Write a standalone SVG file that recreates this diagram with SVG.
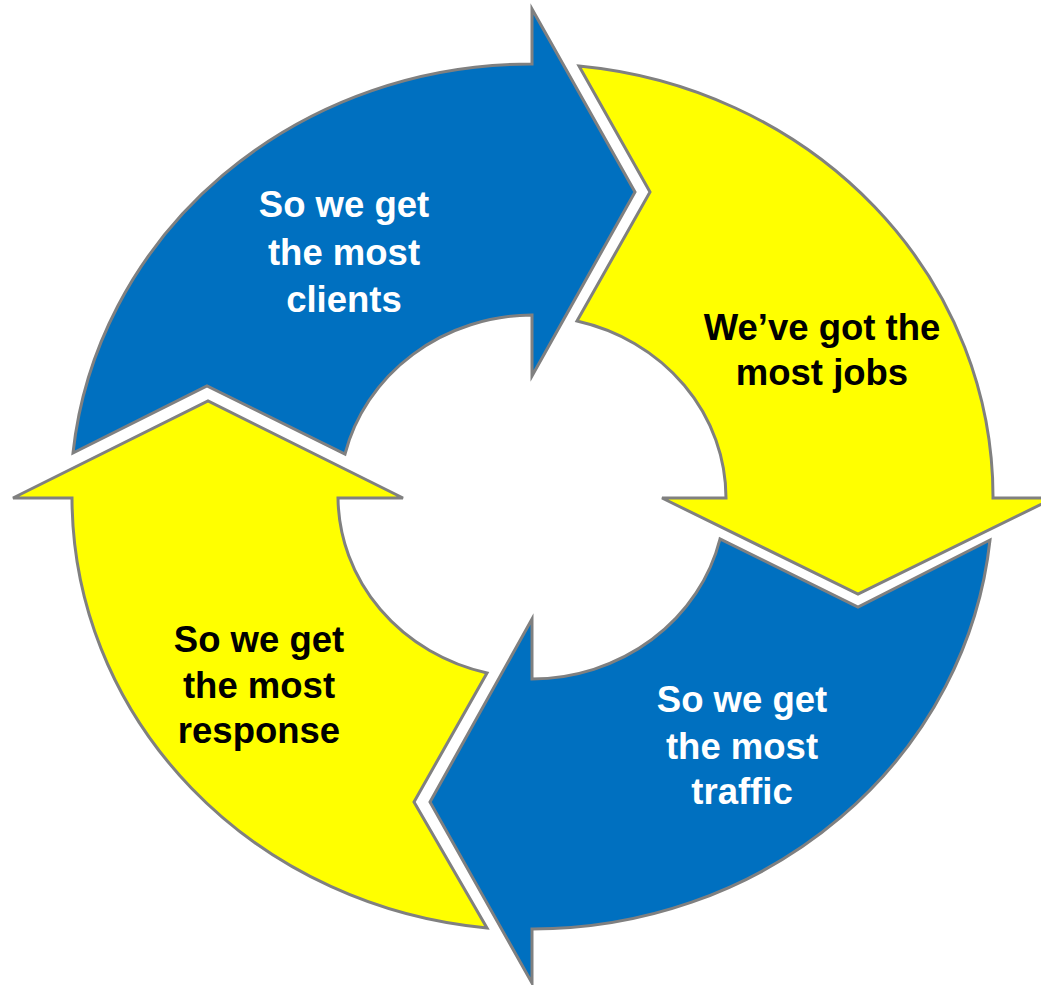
<svg xmlns="http://www.w3.org/2000/svg" width="1041" height="985" viewBox="0 0 1041 985">
<style>
.blue{fill:#0070C0;stroke:#808080;stroke-width:3;stroke-linejoin:miter}
.yellow{fill:#FFFF00;stroke:#808080;stroke-width:3;stroke-linejoin:miter}
text{font-family:"Liberation Sans",Arial,sans-serif;font-weight:bold;font-size:36.5px;text-anchor:middle}
.w{fill:#FFFFFF}
.k{fill:#000000}
</style>
<rect width="1041" height="985" fill="#FFFFFF"/>
<g id="node-clients">
<path class="blue" d="M 73,453 A 460 433 0 0 1 532,64 L 532,9 L 635,192 L 532,376 L 532,315 A 194 182 0 0 0 345,454 L 207,386 Z"/>
<text class="w" x="344" y="217">So we get</text>
<text class="w" x="344" y="265">the most</text>
<text class="w" x="344" y="312">clients</text>
</g>
<g id="node-jobs">
<path class="yellow" d="M 579,66 A 460 433 0 0 1 993,498 L 1054,498 L 858,594 L 662,498 L 726,498 A 194 182 0 0 0 577,321 L 650,192 Z"/>
<text class="k" x="822" y="340">We’ve got the</text>
<text class="k" x="822" y="385">most jobs</text>
</g>
<g id="node-traffic">
<path class="blue" d="M 990,540 A 460 433 0 0 1 532,929 L 532,983 L 430,802 L 532,619 L 532,679 A 194 182 0 0 0 720,539 L 858,607 Z"/>
<text class="w" x="742" y="712">So we get</text>
<text class="w" x="742" y="759">the most</text>
<text class="w" x="742" y="804">traffic</text>
</g>
<g id="node-response">
<path class="yellow" d="M 487,928 A 460 433 0 0 1 72,498 L 13,498 L 208,401 L 403,498 L 338,498 A 194 182 0 0 0 487,673 L 414,802 Z"/>
<text class="k" x="259" y="652">So we get</text>
<text class="k" x="259" y="698">the most</text>
<text class="k" x="259" y="743">response</text>
</g>
<g id="connectors"></g>
</svg>
